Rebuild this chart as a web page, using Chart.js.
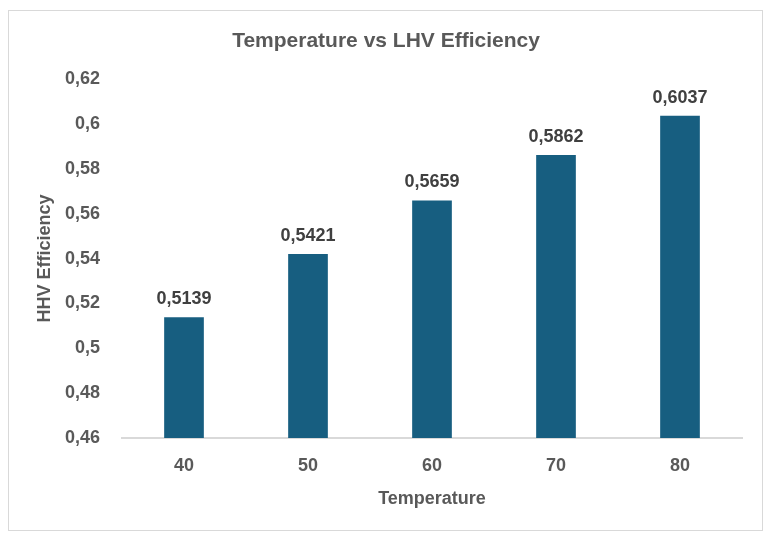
<!DOCTYPE html>
<html>
<head>
<meta charset="utf-8">
<script src="https://cdn.jsdelivr.net/npm/chart.js@4"></script>
<style>
  body { margin: 0; background: #fff; }
  #wrap { position: relative; width: 771px; height: 542px; }
  #frame { position: absolute; left: 8px; top: 10px; width: 755px; height: 521px; border: 1px solid #d9d9d9; box-sizing: border-box; }
</style>
</head>
<body>
<div id="wrap">
  <div id="frame"></div>
  <canvas id="chartEff"></canvas>
</div>
<script>
// datos
const temperaturas = ['40', '50', '60', '70', '80'];
const eficiencia = [0.5139, 0.5421, 0.5659, 0.5862, 0.6037];
const yMin = 0.46, yMax = 0.62, yStep = 0.02;

const coma = v => String(v).replace('.', ',');

// etiquetas encima de cada barra
const etiquetas = {
    id: 'etiquetas',
    afterDatasetsDraw(chart) {
        const ctx = chart.ctx;
        const meta = chart.getDatasetMeta(0);
        ctx.save();
        ctx.font = 'bold 18px "Liberation Sans", Arial, sans-serif';
        ctx.fillStyle = '#404040';
        ctx.textAlign = 'center';
        ctx.textBaseline = 'bottom';
        meta.data.forEach((bar, i) => {
            ctx.fillText(coma(eficiencia[i]), bar.x, bar.y - 9);
        });
        ctx.restore();
    }
};

const ctxEff = document.getElementById('chartEff').getContext('2d');
new Chart(ctxEff, {
    type: 'bar',
    data: {
        labels: temperaturas,
        datasets: [{
            label: 'HHV Efficiency',
            data: eficiencia,
            backgroundColor: '#175e80',
            barPercentage: 0.32,
            categoryPercentage: 1.0
        }]
    },
    options: {
        responsive: true,
        maintainAspectRatio: false,
        animation: false,
        layout: { padding: { left: 30, right: 29, top: 10, bottom: 28 } },
        plugins: {
            legend: { display: false },
            tooltip: { enabled: false },
            title: {
                display: true,
                text: 'Temperature vs LHV Efficiency',
                color: '#595959',
                font: { family: '"Liberation Sans", sans-serif', size: 21, weight: 'bold' },
                padding: { top: 19, bottom: 25 }
            }
        },
        scales: {
            x: {
                grid: { display: false, drawTicks: false },
                border: { color: '#d9d9d9', width: 2 },
                ticks: {
                    color: '#595959',
                    font: { family: '"Liberation Sans", Arial, sans-serif', size: 18, weight: 'bold' },
                    padding: 17
                },
                title: {
                    display: true,
                    text: 'Temperature',
                    color: '#595959',
                    font: { family: '"Liberation Sans", sans-serif', size: 18, weight: 'bold' },
                    padding: { top: 8 }
                },
                afterFit: s => { s.height = 76; }
            },
            y: {
                min: yMin,
                max: yMax,
                grid: { display: false, drawTicks: false },
                border: { display: false },
                ticks: {
                    stepSize: yStep,
                    color: '#595959',
                    font: { family: '"Liberation Sans", Arial, sans-serif', size: 18, weight: 'bold' },
                    padding: 22,
                    callback: v => coma(Math.round(v * 100) / 100)
                },
                title: {
                    display: true,
                    text: 'HHV Efficiency',
                    color: '#595959',
                    font: { family: '"Liberation Sans", sans-serif', size: 18, weight: 'bold' },
                    padding: { bottom: 6 }
                },
                afterFit: s => { s.width = 92; }
            }
        }
    },
    plugins: [etiquetas]
});
</script>
</body>
</html>
